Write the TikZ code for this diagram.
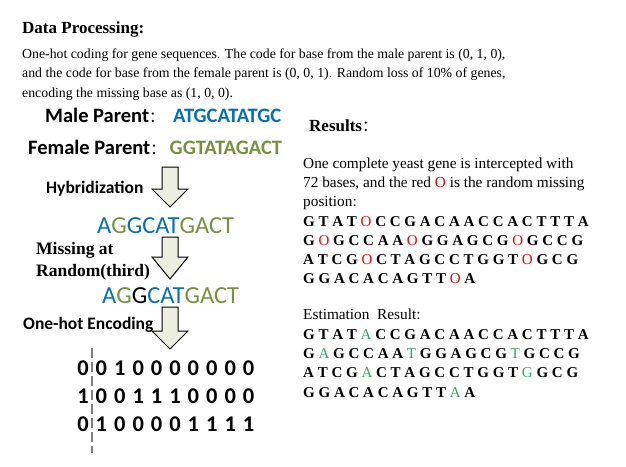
\documentclass[tikz,border=0pt]{standalone}
\usepackage{fontspec}
\setmainfont{Liberation Serif}
\newfontfamily\calib{Carlito}
\newfontfamily\cjk{Noto Sans CJK SC}
\usetikzlibrary{positioning}

\definecolor{maleblue}{RGB}{0,112,192}
\definecolor{femgreen}{RGB}{118,146,60}
\definecolor{estgreen}{RGB}{40,170,100}
\definecolor{arrowfill}{RGB}{236,239,224}

\newcommand{\mb}[1]{\textcolor{maleblue}{#1}}
\newcommand{\fg}[1]{\textcolor{femgreen}{#1}}
\newcommand{\lost}{\textcolor{red}{\mdseries O}}
\newcommand{\est}[1]{\textcolor{estgreen}{\mdseries #1}}
\newcommand{\fcolon}{{\cjk\mdseries\fontsize{15}{15}\selectfont ：}}
\newcommand{\blockarrow}[4]{%
  \draw[blockarr] (#1-8,#2) -- (#1+8,#2) -- (#1+8,#3) -- (#1+18,#3)
    -- (#1,#4) -- (#1-18,#3) -- (#1-8,#3) -- cycle;}

\tikzset{
  headtxt/.style={font=\fontsize{17}{20}\selectfont\bfseries, anchor=base west, inner sep=0pt},
  bodytxt/.style={font=\fontsize{13.8}{19}\selectfont, anchor=base west, inner sep=0pt},
  sidetxt/.style={font=\fontsize{15.3}{19}\selectfont, anchor=base west, inner sep=0pt},
  parentlbl/.style={font=\calib\fontsize{20.5}{24}\selectfont\bfseries, anchor=base west, inner sep=0pt},
  steplbl/.style={font=\calib\fontsize{17.5}{20}\selectfont\bfseries, anchor=base west, inner sep=0pt},
  bigseq/.style={font=\calib\fontsize{24.5}{28}\selectfont, anchor=base west, inner sep=0pt},
  serifstep/.style={font=\fontsize{17.5}{20}\selectfont\bfseries, anchor=base west, inner sep=0pt},
  bit/.style={font=\calib\fontsize{22.5}{26}\selectfont\bfseries, inner sep=0pt},
  generow/.style={font=\fontsize{15}{19}\selectfont\bfseries, anchor=base west, inner sep=0pt},
  blockarr/.style={draw=black, line width=1pt, fill=arrowfill, line join=miter}
}

\begin{document}
\begin{tikzpicture}[x=1pt, y=-1pt]
\useasboundingbox (0,0) rectangle (626,466);

% data processing
\node[headtxt] (dp) at (22,33) {Data Processing:};
\node[bodytxt] (intro1) at (22,58) {One-hot coding for gene sequences. The code for base from the male parent is (0, 1, 0),};
\node[bodytxt] (intro2) at (22,77.5) {and the code for base from the female parent is (0, 0, 1). Random loss of 10\% of genes,};
\node[bodytxt] (intro3) at (22,97) {encoding the missing base as (1, 0, 0).};

% parents and crossing
\node[parentlbl] (male) at (45,122) {Male Parent\fcolon};
\node[parentlbl] (maleseq) at (173,122) {\mb{ATGCATATGC}};
\node[parentlbl] (female) at (28,154) {Female Parent\fcolon};
\node[parentlbl, right=4pt of female.base east, anchor=base west] (femaleseq) {\fg{GGTATAGACT}};

\node[steplbl] (hyb) at (46,193) {Hybridization};
\blockarrow{170}{167}{189}{207}
\node[bigseq] (child) at (97,233) {\mb{A}\fg{G}\mb{GCAT}\fg{GACT}};

\node[serifstep] (miss1) at (36,254) {Missing at};
\node[serifstep] (miss2) at (36,276) {Random(third)};
\blockarrow{170}{237}{257}{279}
\node[bigseq] (childmiss) at (102,303) {\mb{A}\fg{G}G\mb{CAT}\fg{GACT}};

\node[steplbl] (onehot) at (23,329) {One-hot Encoding};
\blockarrow{170}{307}{331}{349}

% one-hot matrix
\draw[gray, line width=1.5pt, dash pattern=on 10pt off 4pt] (92,348) -- (92,453);
\foreach \row [count=\j] in {{0,0,1,0,0,0,0,0,0,0},{1,0,0,1,1,1,0,0,0,0},{0,1,0,0,0,0,1,1,1,1}}
  \foreach \d [count=\i] in \row
    \node[bit] (b\j-\i) at ({83+18.4*(\i-1)},{368+28*(\j-1)}) {\d};

% results
\node[headtxt] (res) at (309,131) {Results\fcolon};
\node[sidetxt] (desc1) at (303,168) {One complete yeast gene is intercepted with};
\node[sidetxt] (desc2) at (303,187) {72 bases, and the red \textcolor{red}{O} is the random missing};
\node[sidetxt] (desc3) at (303,206) {position:};
\node[generow] (g1) at (303,226) {G T A T \lost{} C C G A C A A C C A C T T T A};
\node[generow] (g2) at (303,245) {G \lost{} G C C A A \lost{} G G A G C G \lost{} G C C G};
\node[generow] (g3) at (303,264) {A T C G \lost{} C T A G C C T G G T \lost{} G C G};
\node[generow] (g4) at (303,283) {G G A C A C A G T T \lost{} A};

\node[sidetxt] (estlbl) at (303,319) {Estimation\ \ Result:};
\node[generow] (e1) at (303,339) {G T A T \est{A} C C G A C A A C C A C T T T A};
\node[generow] (e2) at (303,358) {G \est{A} G C C A A \est{T} G G A G C G \est{T} G C C G};
\node[generow] (e3) at (303,377) {A T C G \est{A} C T A G C C T G G T \est{G} G C G};
\node[generow] (e4) at (303,397) {G G A C A C A G T T \est{A} A};
\end{tikzpicture}
\end{document}
